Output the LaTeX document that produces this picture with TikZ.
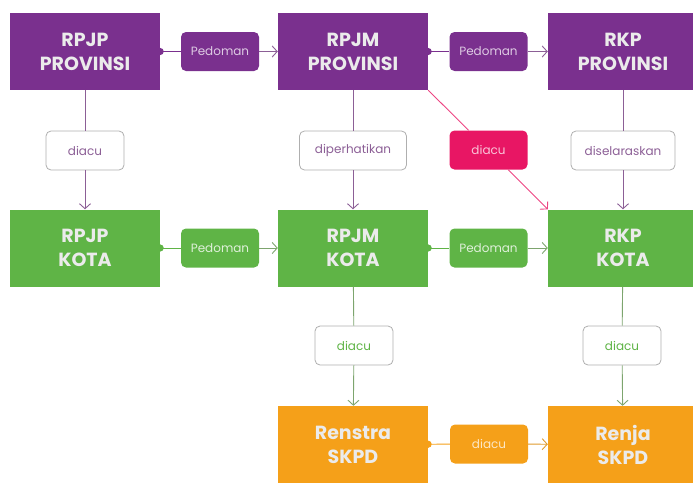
\documentclass[tikz,border=0pt]{standalone}
\usepackage{fontspec}
\setmainfont{Poppins}
\usepackage{xcolor}
\usetikzlibrary{arrows.meta}

\definecolor{provpurple}{RGB}{122,48,142}
\definecolor{kotagreen}{RGB}{95,180,70}
\definecolor{skpdorange}{RGB}{245,160,25}
\definecolor{acupink}{RGB}{232,22,100}
\definecolor{lnpurple}{RGB}{140,95,150}
\definecolor{lngreen}{RGB}{125,165,110}
\definecolor{lblgray}{RGB}{175,175,175}

\tikzset{
  bigbox/.style={rectangle, minimum width=150pt, minimum height=77pt, inner sep=0pt,
    align=center, text=white!92!black, font=\fontsize{19}{24}\selectfont\bfseries},
  tag/.style={rectangle, rounded corners=5pt, minimum width=78pt, minimum height=39pt,
    inner sep=2pt, font=\fontsize{12}{14}\selectfont},
  opentag/.style={tag, draw=lblgray, fill=white, line width=0.8pt},
  conn/.style={line width=0.9pt, {Circle[length=7pt]}-, shorten <=-3.5pt},
  tip/.style={-{Straight Barb[length=5pt,width=11pt,line width=0.9pt]}},
}

\begin{document}
\begin{tikzpicture}[x=1pt,y=-1pt]
\useasboundingbox (0,0) rectangle (693,482);
% ----- boxes -----
\node[bigbox, fill=provpurple] (rpjpprov) at (85,51.5) {RPJP\\PROVINSI};
\node[bigbox, fill=provpurple] (rpjmprov) at (353,51.5) {RPJM\\PROVINSI};
\node[bigbox, fill=provpurple] (rkpprov) at (623,51.5) {RKP\\PROVINSI};
\node[bigbox, fill=kotagreen] (rpjpkota) at (85,248) {RPJP\\KOTA};
\node[bigbox, fill=kotagreen] (rpjmkota) at (353,248) {RPJM\\KOTA};
\node[bigbox, fill=kotagreen] (rkpkota) at (623,248) {RKP\\KOTA};
\node[bigbox, fill=skpdorange] (renstra) at (353,444.5) {Renstra\\SKPD};
\node[bigbox, fill=skpdorange] (renja) at (623,444.5) {Renja\\SKPD};
% ----- labels -----
\node[tag, fill=provpurple, text=white!75!provpurple] (pedpa) at (220,51.5) {Pedoman};
\node[tag, fill=provpurple, text=white!75!provpurple] (pedpb) at (488.5,51.5) {Pedoman};
\node[tag, fill=kotagreen, text=white!80!kotagreen] (pedka) at (220,248) {Pedoman};
\node[tag, fill=kotagreen, text=white!80!kotagreen] (pedkb) at (488.5,248) {Pedoman};
\node[tag, fill=skpdorange, text=white!75!skpdorange] (acuskpd) at (489,444) {diacu};
\node[opentag, text=lnpurple] (acua) at (85,150.5) {diacu};
\node[opentag, text=lnpurple, minimum width=107pt] (perhati) at (353,150.5) {diperhatikan};
\node[opentag, text=lnpurple, minimum width=104pt] (selaras) at (623,150.5) {diselaraskan};
\node[tag, fill=acupink, text=white!75!acupink] (acupk) at (488.5,150) {diacu};
\node[opentag, text=kotagreen] (acub) at (354,345.5) {diacu};
\node[opentag, text=kotagreen] (acuc) at (622,345.5) {diacu};
% ----- horizontal connectors -----
\draw[conn, provpurple] (rpjpprov) -- (pedpa);
\draw[tip, lnpurple, line width=0.9pt] (pedpa) -- (rpjmprov);
\draw[conn, provpurple] (rpjmprov) -- (pedpb);
\draw[tip, lnpurple, line width=0.9pt] (pedpb) -- (rkpprov);
\draw[conn, kotagreen] (rpjpkota) -- (pedka);
\draw[tip, lngreen, line width=0.9pt] (pedka) -- (rpjmkota);
\draw[conn, kotagreen] (rpjmkota) -- (pedkb);
\draw[tip, lngreen, line width=0.9pt] (pedkb) -- (rkpkota);
\draw[conn, skpdorange] (renstra) -- (acuskpd);
\draw[tip, skpdorange!80!gray, line width=0.9pt] (acuskpd) -- (renja);
% ----- vertical connectors -----
\draw[lnpurple, line width=0.9pt] (rpjpprov) -- (acua);
\draw[tip, lnpurple, line width=0.9pt] (acua) -- (rpjpkota);
\draw[lnpurple, line width=0.9pt] (rpjmprov) -- (perhati);
\draw[tip, lnpurple, line width=0.9pt] (perhati) -- (rpjmkota);
\draw[lnpurple, line width=0.9pt] (rkpprov) -- (selaras);
\draw[tip, lnpurple, line width=0.9pt] (selaras) -- (rkpkota);
\draw[lngreen, line width=0.9pt] (rpjmkota) -- (acub);
\draw[tip, lngreen, line width=0.9pt] (acub) -- (renstra);
\draw[lngreen, line width=0.9pt] (rkpkota) -- (acuc);
\draw[tip, lngreen, line width=0.9pt] (acuc) -- (renja);
% ----- diagonal -----
\draw[acupink!80!white, line width=0.9pt] (rpjmprov.south east) -- (acupk);
\draw[tip, acupink!80!white, line width=0.9pt] (acupk) -- (rkpkota.north west);
\end{tikzpicture}
\end{document}
